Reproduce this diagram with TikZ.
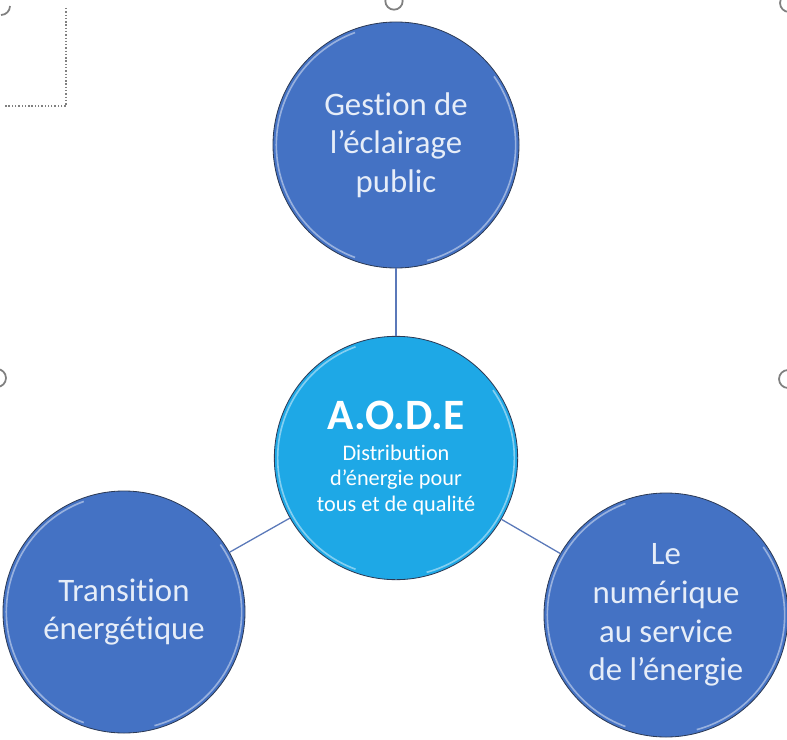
\documentclass[tikz,border=0pt]{standalone}
\usepackage{fontspec}
\setmainfont[Ligatures=NoCommon]{Carlito}
\usepackage{xcolor}
\usetikzlibrary{calc}
\definecolor{aodeblue}{HTML}{4472C4}
\definecolor{aodesky}{HTML}{1EA8E6}
\definecolor{aodeedge}{HTML}{2C3A55}
\definecolor{aodeline}{HTML}{5B79B9}
\definecolor{aodetext}{HTML}{E6EDF8}
\definecolor{handlegray}{HTML}{808080}

\tikzset{
  rim/.style={white, opacity=0.45, line width=1.4pt},
  bubble/.style={circle, inner sep=0pt, minimum size=#1, draw=aodeedge, line width=0.7pt,
    fill=aodeblue, text=aodetext, align=center, font=\fontsize{28}{33}\selectfont,
    path picture={
      \draw[rim] ($(path picture bounding box.center)+(110:{#1/2-0.1cm})$)
        arc[start angle=110, end angle=250, radius={#1/2-0.1cm}];
      \draw[rim] ($(path picture bounding box.center)+(-75:{#1/2-0.1cm})$)
        arc[start angle=-75, end angle=35, radius={#1/2-0.1cm}];
    }},
  link/.style={draw=aodeline, line width=1.1pt},
  handle/.style={draw=handlegray, line width=1.5pt},
}

\begin{document}
\begin{tikzpicture}
        \useasboundingbox (0,0) rectangle (23.61,-22.2);
        \clip (0,0) rectangle (23.61,-22.2);
        \draw[handlegray, line width=0.9pt, dash pattern=on 1.2pt off 1.6pt]
          (1.98,-0.24) -- (1.98,-3.18) -- (0.15,-3.18);
        \draw[handle] (0.03,-0.45) arc[start angle=-90, end angle=0, radius=0.27];
        \draw[handle] (11.82,-0.03)  circle (0.26);
        \draw[handle] (23.67,-0.09)  circle (0.27);
        \draw[handle] (-0.09,-11.34) circle (0.27);
        \draw[handle] (23.64,-11.37) circle (0.27);

        \node[bubble=7.38cm] (eclairage)  at (11.88,-4.35)
          {Gestion de\\l’éclairage\\public};
        \node[bubble=7.3cm, fill=aodesky, text=white,
              font=\fontsize{19}{21.5}\selectfont] (aode) at (11.88,-13.74)
          {{\fontsize{37}{40}\selectfont\bfseries A.O.D.E}\\[5pt]
           Distribution\\d’énergie pour\\tous et de qualité};
        \node[bubble=7.26cm] (transition) at (3.72,-18.36)
          {Transition\\énergétique};
        \node[bubble=7.32cm] (numerique)  at (19.98,-18.45)
          {Le\\numérique\\au service\\de l’énergie};

        \draw[link] (eclairage) -- (aode);
        \draw[link] (aode) -- (transition);
        \draw[link] (aode) -- (numerique);
      \end{tikzpicture}
\end{document}
